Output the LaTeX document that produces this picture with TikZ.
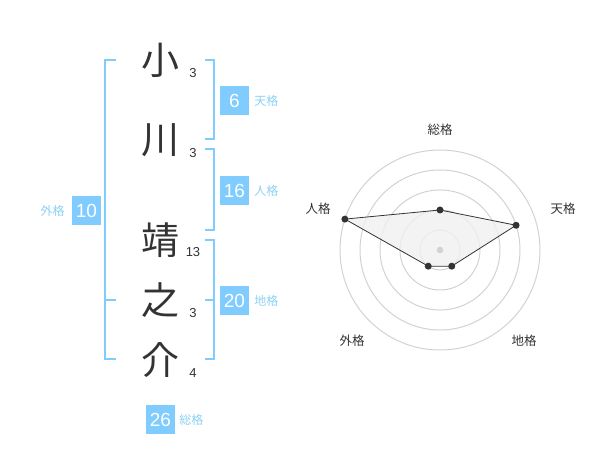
\documentclass[tikz,border=0pt]{standalone}
\usepackage{fontspec}
\setmainfont{Liberation Sans}
\newfontfamily\jpfont{Noto Sans CJK JP}
\usetikzlibrary{positioning, calc}
\definecolor{kakublue}{RGB}{128,204,255}
\definecolor{kakulabel}{RGB}{140,208,245}
\definecolor{inkgray}{RGB}{51,51,51}
\definecolor{ringgray}{RGB}{210,210,210}
\definecolor{areagray}{RGB}{240,240,240}

\tikzset{
  namechar/.style={font=\jpfont\fontsize{38}{38}\selectfont, text=inkgray, inner sep=0pt},
  strokenum/.style={font=\fontsize{13}{13}\selectfont, text=inkgray, inner sep=0pt},
  kakubox/.style={fill=kakublue, text=white, minimum size=29pt, inner sep=0pt, font=\fontsize{19}{19}\selectfont},
  kakutext/.style={text=kakulabel, font=\jpfont\fontsize{12}{12}\selectfont, inner sep=0pt},
  bracketline/.style={draw=kakublue, line width=2pt},
  axislabel/.style={font=\jpfont\fontsize{12.5}{12.5}\selectfont, text=inkgray, inner sep=0pt},
  dot/.style={circle, fill=inkgray, inner sep=0pt, minimum size=7pt}
}

\begin{document}
\begin{tikzpicture}[x=1pt,y=-1pt]
\useasboundingbox (0,0) rectangle (600,470);

% name and stroke counts
\node[namechar] (c1) at (160,60) {小};
\node[namechar] (c2) at (160,140) {川};
\node[namechar] (c3) at (160,240) {靖};
\node[namechar] (c4) at (160,300) {之};
\node[namechar] (c5) at (160,360) {介};
\node[strokenum] (n1) at (193,73) {3};
\node[strokenum] (n2) at (193,153) {3};
\node[strokenum] (n3) at (193,252) {13};
\node[strokenum] (n4) at (193,313) {3};
\node[strokenum] (n5) at (193,373) {4};

% brackets
\draw[bracketline] (116,60) -- (105,60) -- (105,359) -- (116,359);
\draw[bracketline] (105,300) -- (116,300);
\draw[bracketline] (205,60) -- (214,60) -- (214,139) -- (205,139);
\draw[bracketline] (205,149) -- (214,149) -- (214,230) -- (205,230);
\draw[bracketline] (205,240) -- (214,240) -- (214,359) -- (205,359);
\draw[bracketline] (205,300) -- (214,300);

% values
\node[kakubox] (ten) at (234.5,100.5) {6};
\node[kakutext, right=5pt of ten] (tenl) {天格};
\node[kakubox] (jin) at (234.5,190.5) {16};
\node[kakutext, right=5pt of jin] (jinl) {人格};
\node[kakubox] (chi) at (234.5,300.5) {20};
\node[kakutext, right=5pt of chi] (chil) {地格};
\node[kakubox] (gai) at (86.5,210.5) {10};
\node[kakutext, left=7pt of gai] (gail) {外格};
\node[kakubox] (sou) at (160.5,419.5) {26};
\node[kakutext, right=4pt of sou] (soul) {総格};

% radar
\coordinate (o) at (440,250);
\foreach \r in {20,40,...,100}
  \draw[ringgray, line width=1pt] (o) circle (\r);
\coordinate (p1) at ($(o)+(-90:40)$);
\coordinate (p2) at ($(o)+(-18:80)$);
\coordinate (p3) at ($(o)+(54:20)$);
\coordinate (p4) at ($(o)+(126:20)$);
\coordinate (p5) at ($(o)+(198:100)$);
\filldraw[fill=areagray, fill opacity=0.8, draw=inkgray, line width=0.8pt]
  (p1) -- (p2) -- (p3) -- (p4) -- (p5) -- cycle;
\fill[ringgray] (o) circle (3.3);
\foreach \p in {p1,p2,p3,p4,p5}
  \node[dot] at (\p) {};
\node[axislabel] (a1) at (440,130) {総格};
\node[axislabel] (a2) at (563,209) {天格};
\node[axislabel] (a3) at (524,341) {地格};
\node[axislabel] (a4) at (352,341) {外格};
\node[axislabel] (a5) at (318,209) {人格};
\end{tikzpicture}
\end{document}
